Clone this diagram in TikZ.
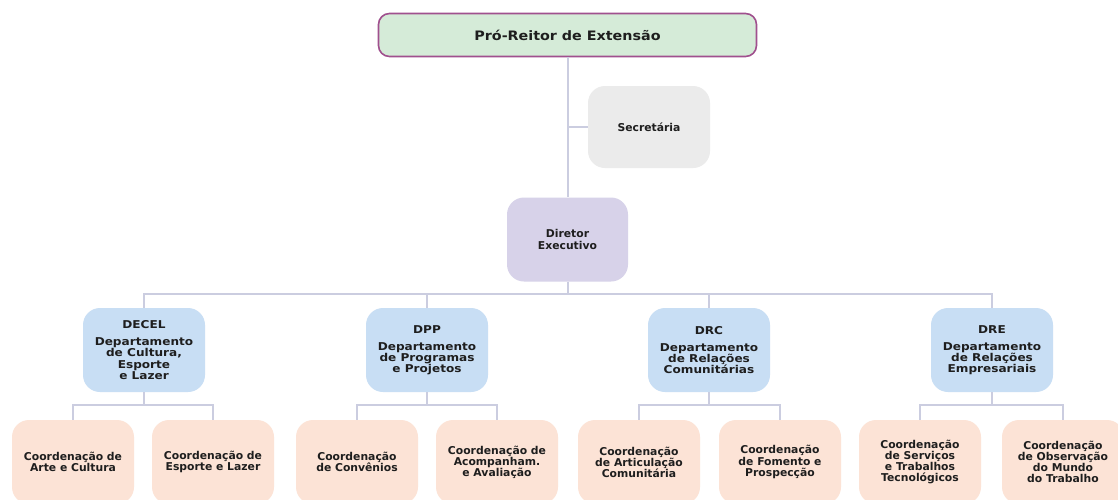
\documentclass[tikz,border=0pt]{standalone}
\usepackage{fontspec}
\setmainfont{DejaVu Sans}
\newfontfamily\titlefont{DejaVu Sans}[FakeStretch=1.1]
\newfontfamily\depfont{DejaVu Sans}[FakeStretch=1.12]
\definecolor{topfill}{HTML}{D5EBD8}
\definecolor{topdraw}{HTML}{A0508E}
\definecolor{secfill}{HTML}{EBEBEB}
\definecolor{dirfill}{HTML}{D7D2E9}
\definecolor{depfill}{HTML}{C8DEF4}
\definecolor{cofill}{HTML}{FCE3D6}
\definecolor{linec}{HTML}{CBCDE0}
\definecolor{txt}{HTML}{1E1E1E}
\begin{document}
\begin{tikzpicture}[x=1pt,y=-1pt,
  box/.style={rounded corners=17pt, minimum width=122pt, minimum height=84pt, align=center,
    text=txt, inner sep=1pt, font=\fontsize{10.8}{11.1}\selectfont\bfseries},
  depbox/.style={box, fill=depfill, font=\depfont\fontsize{10.8}{11.1}\selectfont\bfseries},
  cobox/.style={box, fill=cofill},
  conn/.style={draw=linec, line width=2pt}]
\useasboundingbox (0,0) rectangle (1118,499);
\clip (0,0) rectangle (1118,499);
\fill[white] (0,0) rectangle (1118,499);

\node[box, fill=topfill, draw=topdraw, line width=1.6pt, rounded corners=11pt, minimum width=378pt, minimum height=43pt,
  font=\titlefont\fontsize{13}{15}\selectfont\bfseries] (top) at (567.5,35) {Pró-Reitor de Extensão};
\node[box, fill=secfill, minimum height=82pt] (sec) at (649,127) {Secretária};
\node[box, fill=dirfill, minimum width=121pt, minimum height=84pt] (dir) at (567.5,239.5) {Diretor\\Executivo};

\node[depbox] (d1) at (144,350) {DECEL\\[6pt]Departamento\\de Cultura,\\Esporte\\e Lazer};
\node[depbox] (d2) at (427,350) {DPP\\[6pt]Departamento\\de Programas\\e Projetos};
\node[depbox] (d3) at (709,350) {DRC\\[6pt]Departamento\\de Relações\\Comunitárias};
\node[depbox] (d4) at (992,350) {DRE\\[6pt]Departamento\\de Relações\\Empresariais};

\node[cobox] (c1) at (73,462) {Coordenação de\\Arte e Cultura};
\node[cobox] (c2) at (213,462) {Coordenação de\\Esporte e Lazer};
\node[cobox] (c3) at (357,462) {Coordenação\\de Convênios};
\node[cobox] (c4) at (497,462) {Coordenação de\\Acompanham.\\e Avaliação};
\node[cobox] (c5) at (639,462) {Coordenação\\de Articulação\\Comunitária};
\node[cobox] (c6) at (780,462) {Coordenação\\de Fomento e\\Prospecção};
\node[cobox] (c7) at (920,462) {Coordenação\\de Serviços\\e Trabalhos\\Tecnológicos};
\node[cobox] (c8) at (1063,462) {Coordenação\\de Observação\\do Mundo\\do Trabalho};

\coordinate (bus) at (567.5,294);
\coordinate (b1) at (144,405);
\coordinate (b2) at (427,405);
\coordinate (b3) at (709,405);
\coordinate (b4) at (992,405);

\draw[conn] (top.south) -- (dir.north);
\draw[conn] (sec.west) -- (sec.west -| top.south);
\draw[conn] (dir.south) -- (bus);
\draw[conn] (d1.north) |- (d4.north |- bus) -- (d4.north);
\draw[conn] (d2.north) -- (d2.north |- bus);
\draw[conn] (d3.north) -- (d3.north |- bus);

\draw[conn] (d1.south) -- (b1);
\draw[conn] (c1.north) |- (c2.north |- b1) -- (c2.north);
\draw[conn] (d2.south) -- (b2);
\draw[conn] (c3.north) |- (c4.north |- b2) -- (c4.north);
\draw[conn] (d3.south) -- (b3);
\draw[conn] (c5.north) |- (c6.north |- b3) -- (c6.north);
\draw[conn] (d4.south) -- (b4);
\draw[conn] (c7.north) |- (c8.north |- b4) -- (c8.north);
\end{tikzpicture}
\end{document}
